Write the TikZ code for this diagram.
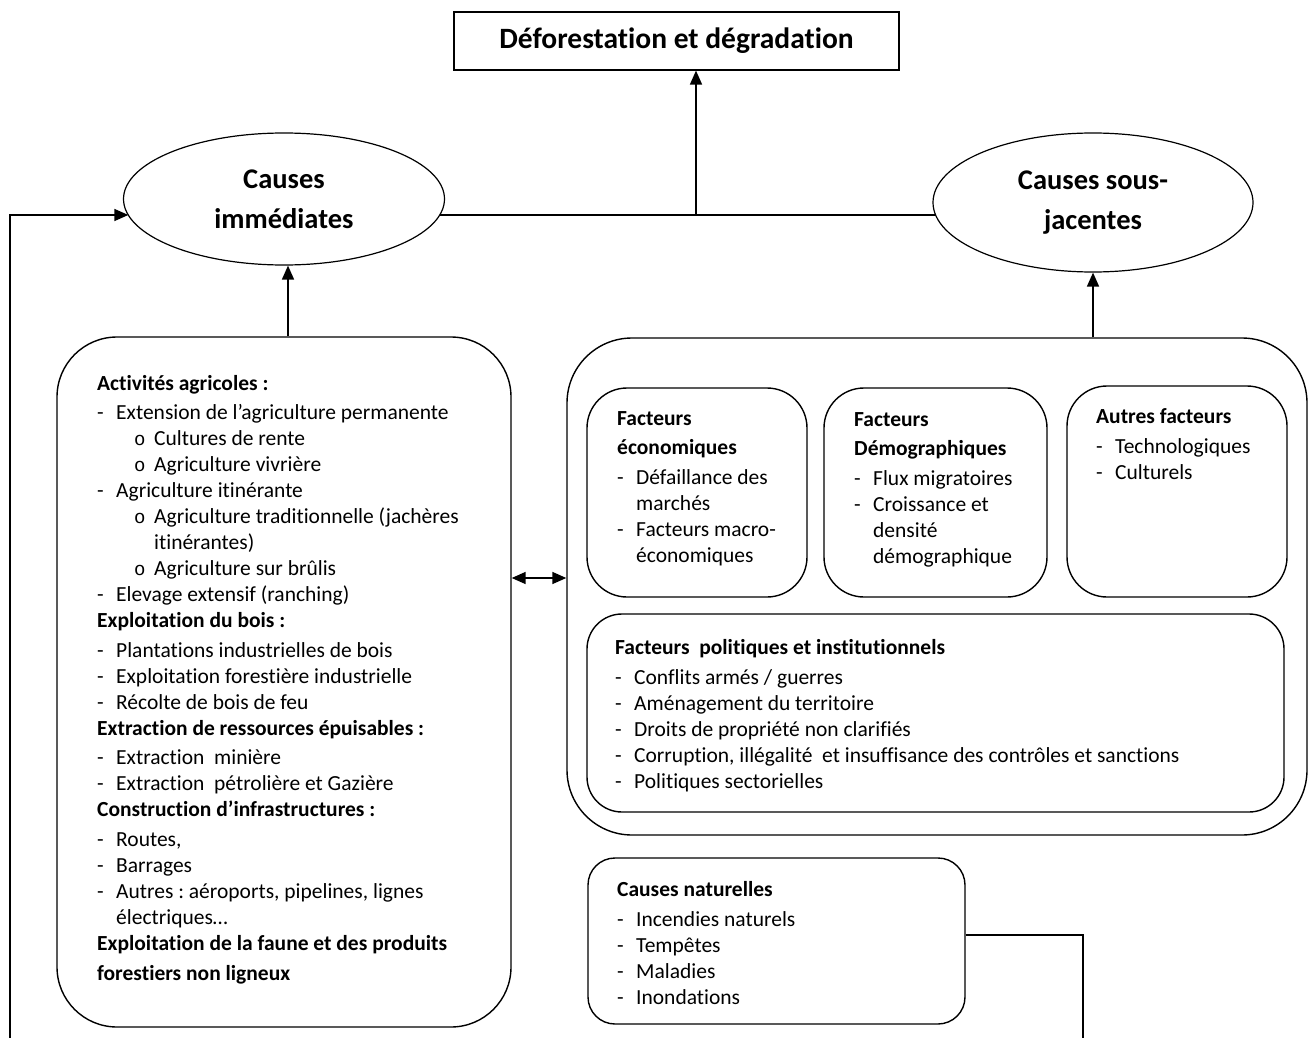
\documentclass[tikz,border=0pt]{standalone}
\usepackage{fontspec}
\setmainfont{Carlito}[Ligatures=NoCommon]
\newfontfamily\monof{Liberation Mono}
\usetikzlibrary{arrows.meta,shapes.geometric}
\frenchspacing
\newcommand{\dsh}[1]{\makebox[19pt][l]{-}#1}
\newcommand{\subb}[1]{\hspace*{37pt}\makebox[20pt][l]{{\monof\fontsize{19}{26}\selectfont o}}#1}
\newcommand{\hang}[2]{\hspace*{#1pt}#2}
\begin{document}
\begin{tikzpicture}[x=1pt,y=-1pt,
  box/.style={draw,line width=1.4pt,rounded corners=#1,inner sep=0pt},
  box/.default=40pt,
  ell/.style={draw,line width=1.2pt,ellipse,inner sep=0pt},
  conn/.style={line width=1.6pt},
  arr/.style={line width=1.6pt,-{Triangle[length=14pt,width=12pt]}},
  darr/.style={line width=1.6pt,{Triangle[length=14pt,width=12pt]}-{Triangle[length=14pt,width=12pt]}},
  txt/.style={anchor=base west,inner sep=0pt,font=\fontsize{21.5}{26}\selectfont}
]
\useasboundingbox (0,0) rectangle (1309,1038);
% title
\node[draw,line width=1.2pt,minimum width=445pt,minimum height=58pt,inner sep=0pt,
  font=\bfseries\fontsize{29.5}{34}\selectfont] (title) at (676.5,41) {Déforestation et dégradation};
% ellipses
\node[ell,minimum width=321pt,minimum height=132pt,align=center,
  font=\bfseries\fontsize{28.5}{40}\selectfont] (lell) at (284,199) {Causes\\immédiates};
\node[ell,minimum width=320pt,minimum height=139pt,align=center,
  font=\bfseries\fontsize{28.5}{40}\selectfont] (rell) at (1093,202.5) {Causes sous-\\jacentes};
% big boxes
\node[box=60pt,minimum width=454pt,minimum height=690pt] (lbox) at (284,682) {};
\node[box=65pt,minimum width=740pt,minimum height=497pt] (rbox) at (937,586.5) {};
\node[box=40pt,minimum width=220pt,minimum height=209pt] (econ) at (697,492.5) {};
\node[box=40pt,minimum width=223pt,minimum height=209pt] (demo) at (935.5,492.5) {};
\node[box=40pt,minimum width=220pt,minimum height=211pt] (autr) at (1177,491.5) {};
\node[box=35pt,minimum width=697pt,minimum height=198pt] (poli) at (935.5,713) {};
\node[box=27pt,minimum width=377pt,minimum height=166pt] (natu) at (776.5,941) {};
% left box text
\node[txt] (ltxt) at (97,390) {\begin{tabular}[t]{@{}l@{}}
\textbf{Activités agricoles :}\\[3pt]
\dsh{Extension de l’agriculture permanente}\\
\subb{Cultures de rente}\\
\subb{Agriculture vivrière}\\
\dsh{Agriculture itinérante}\\
\subb{Agriculture traditionnelle (jachères}\\
\hang{57}{itinérantes)}\\
\subb{Agriculture sur brûlis}\\
\dsh{Elevage extensif (ranching)}\\
\textbf{Exploitation du bois :}\\[4pt]
\dsh{Plantations industrielles de bois}\\
\dsh{Exploitation forestière industrielle}\\
\dsh{Récolte de bois de feu}\\
\textbf{Extraction de ressources épuisables :}\\[3pt]
\dsh{Extraction\ \ minière}\\
\dsh{Extraction\ \ pétrolière et Gazière}\\
\textbf{Construction d’infrastructures :}\\[4pt]
\dsh{Routes,}\\
\dsh{Barrages}\\
\dsh{Autres : aéroports, pipelines, lignes}\\
\hang{19}{électriques…}\\
\textbf{Exploitation de la faune et des produits}\\[4pt]
\textbf{forestiers non ligneux}
\end{tabular}};
% econ
\node[txt] (etxt) at (617,425) {\begin{tabular}[t]{@{}l@{}}
\textbf{Facteurs}\\[3pt]
\textbf{économiques}\\[4pt]
\dsh{Défaillance des}\\
\hang{19}{marchés}\\
\dsh{Facteurs macro-}\\
\hang{19}{économiques}
\end{tabular}};
\node[txt] (dtxt) at (854,426) {\begin{tabular}[t]{@{}l@{}}
\textbf{Facteurs}\\[3pt]
\textbf{Démographiques}\\[4pt]
\dsh{Flux migratoires}\\
\dsh{Croissance et}\\
\hang{19}{densité}\\
\hang{19}{démographique}
\end{tabular}};
\node[txt] (atxt) at (1096,423) {\begin{tabular}[t]{@{}l@{}}
\textbf{Autres facteurs}\\[4pt]
\dsh{Technologiques}\\
\dsh{Culturels}
\end{tabular}};
\node[txt] (ptxt) at (615,654) {\begin{tabular}[t]{@{}l@{}}
\textbf{Facteurs\ \ politiques et institutionnels}\\[4pt]
\dsh{Conflits armés / guerres}\\
\dsh{Aménagement du territoire}\\
\dsh{Droits de propriété non clarifiés}\\
\dsh{Corruption, illégalité\ \ et insuffisance des contrôles et sanctions}\\
\dsh{Politiques sectorielles}
\end{tabular}};
\node[txt] (ntxt) at (617,896) {\begin{tabular}[t]{@{}l@{}}
\textbf{Causes naturelles}\\[4pt]
\dsh{Incendies naturels}\\
\dsh{Tempêtes}\\
\dsh{Maladies}\\
\dsh{Inondations}
\end{tabular}};
% connectors
\coordinate (J) at (696,215);
\coordinate (fb) at (10,1038);
\coordinate (ne) at (1083,1038);
\coordinate (dy) at (0,578);
\coordinate (ny) at (0,935);
\draw[conn] ([shift={(155.7,16)}]lell.center) -- ([shift={(-157.4,12.5)}]rell.center);
\draw[arr] (J) -- (J |- title.south);
\draw[arr] (fb) |- ([shift={(-155.7,16)}]lell.center);
\draw[arr] ([xshift=4pt]lbox.north) -- ([xshift=4pt]lbox.north |- lell.south);
\draw[arr] (rbox.north -| rell.south) -- (rell.south);
\draw[darr] (lbox.east |- dy) -- (rbox.west |- dy);
\draw[conn] (natu.east |- ny) -| (ne);
\end{tikzpicture}
\end{document}
